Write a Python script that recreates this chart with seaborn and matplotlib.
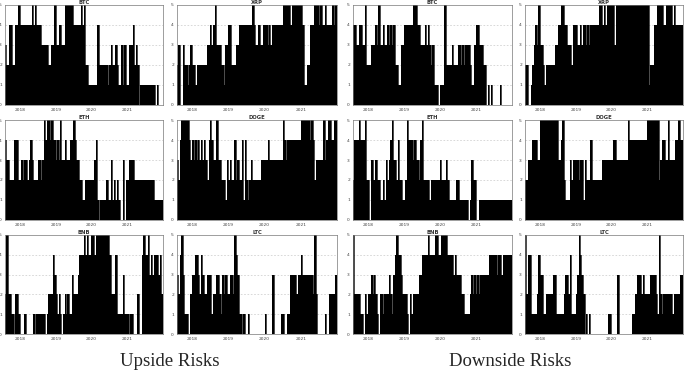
import matplotlib
matplotlib.use("Agg")
import matplotlib.pyplot as plt
import seaborn as sns
import pandas as pd

# half-monthly risk counts, Aug 2017 - Dec 2021 (106 points each)
dates = pd.date_range("2017-08-01", periods=106, freq="SMS")
x_end = pd.Timestamp("2022-01-01")

coins = [["BTC", "XRP"], ["ETH", "DOGE"], ["BNB", "LTC"]]

# upside risks
btc_up = ("3224422445" "4444444454" "5444333332" "2335334433" "5555554444"
          "4545221111" "1142222221" "2322321131" "3113334232" "0111111111" "101000")
xrp_up = ("2300322123" "2212222222" "3343453332" "2133442223" "3444444444"
          "5433433444" "3434444444" "5555545555" "5554112244" "4555454454" "444545")
eth_up = ("4332224442" "2323323432" "2233235455" "4544343533" "4333445433"
          "2211222222" "3410111121" "1312121003" "0223333222" "2222222222" "111111")
doge_up = ("3245555543" "4343434343" "2454335332" "2213232242" "3224142123"
           "2222223333" "4333333333" "5434444444" "4455555545" "4233333534" "554455")
bnb_up = ("2522110221" "0001000001" "0111111012" "2243212101" "2121132223"
          "4445454455" "4555555555" "4222411113" "1110110002" "0045445343" "444342")
ltc_up = ("3245311002" "3344324322" "3331223321" "3232233254" "3110100100"
          "0000000010" "0003000001" "1001133332" "3343333333" "2520000010" "022223")

# downside risks
btc_down = ("4433443352" "2233343533" "4334343422" "1133444444" "5554433343"
            "4323111011" "1522223222" "3323233321" "1344333220" "1010000010" "000000")
xrp_down = ("2200123435" "3321222222" "3344554433" "3244433434" "4343444444"
            "5545455555" "3555555555" "5555555555" "5551222445" "5554455554" "544444")
eth_down = ("2444544452" "2032232211" "2132345332" "4221125444" "3433245222"
            "2122222232" "2232111112" "2111111013" "2200111111" "1111111111" "111111")
doge_down = ("2233344433" "5555555555" "5533452111" "3233332331" "3222422222"
             "2233333334" "4333333335" "4444444444" "4455555555" "2344335333" "344544")
bnb_down = ("5222211021" "2232321022" "1222321345" "4432221021" "2222334444"
            "5444455445" "5554444343" "3322111123" "2323233333" "3444443443" "444444")
ltc_down = ("5244111124" "3311222223" "3111112332" "4111235432" "0101000000"
            "0000001100" "0030000000" "0011233323" "2222333321" "5212222221" "222233")

upside = {"BTC": btc_up, "XRP": xrp_up, "ETH": eth_up,
          "DOGE": doge_up, "BNB": bnb_up, "LTC": ltc_up}
downside = {"BTC": btc_down, "XRP": xrp_down, "ETH": eth_down,
            "DOGE": doge_down, "BNB": bnb_down, "LTC": ltc_down}

sns.set_style("white")
plt.rcParams["font.family"] = ["DejaVu Sans"]

W, H = 685, 373
fig = plt.figure(figsize=(W / 100, H / 100), dpi=100)

col_px = [(5, 163), (177, 337), (353, 512), (525, 683)]
row_px = [(5, 105), (120, 220), (235, 334)]
year_ticks = pd.to_datetime(["2018-01-01", "2019-01-01", "2020-01-01", "2021-01-01"])


def draw(ax, name, series):
    vals = [int(c) for c in series] + [int(series[-1])]
    xs = list(dates) + [x_end]
    df = pd.DataFrame({"date": xs, "risk": vals})
    ax.fill_between(df["date"], df["risk"], step="post", color="black", lw=0)
    sns.lineplot(data=df, x="date", y="risk", drawstyle="steps-post",
                 color="black", lw=0.5, ax=ax)
    ax.set_xlim(dates[0], x_end)
    ax.set_ylim(0, 5)
    ax.set_yticks(range(6))
    ax.set_xticks(year_ticks)
    ax.set_xticklabels(["2018", "2019", "2020", "2021"])
    ax.tick_params(labelsize=3.2, colors="#444444", length=1.2, width=0.4, pad=1)
    for y in range(1, 5):
        ax.axhline(y, color="#bbbbbb", lw=0.4, ls=(0, (3, 3)), zorder=0)
    for sp in ax.spines.values():
        sp.set_color("#777777")
        sp.set_linewidth(0.5)
    ax.set_xlabel("")
    ax.set_ylabel("")
    ax.set_title(name, fontsize=3.8, fontweight="bold", color="#333333", pad=1)


for group, (data, col_off) in enumerate([(upside, 0), (downside, 2)]):
    for r, pair in enumerate(coins):
        for c, name in enumerate(pair):
            l, rr = col_px[col_off + c]
            t, b = row_px[r]
            ax = fig.add_axes([l / W, 1 - b / H, (rr - l) / W, (b - t) / H])
            draw(ax, name, data[name])

fig.text(170 / W, 1 - 361 / H, "Upside Risks", ha="center", va="center",
         fontsize=13.5, family="Liberation Serif")
fig.text(510 / W, 1 - 361 / H, "Downside Risks", ha="center", va="center",
         fontsize=13.5, family="Liberation Serif")

fig.savefig("out.png", dpi=100)
